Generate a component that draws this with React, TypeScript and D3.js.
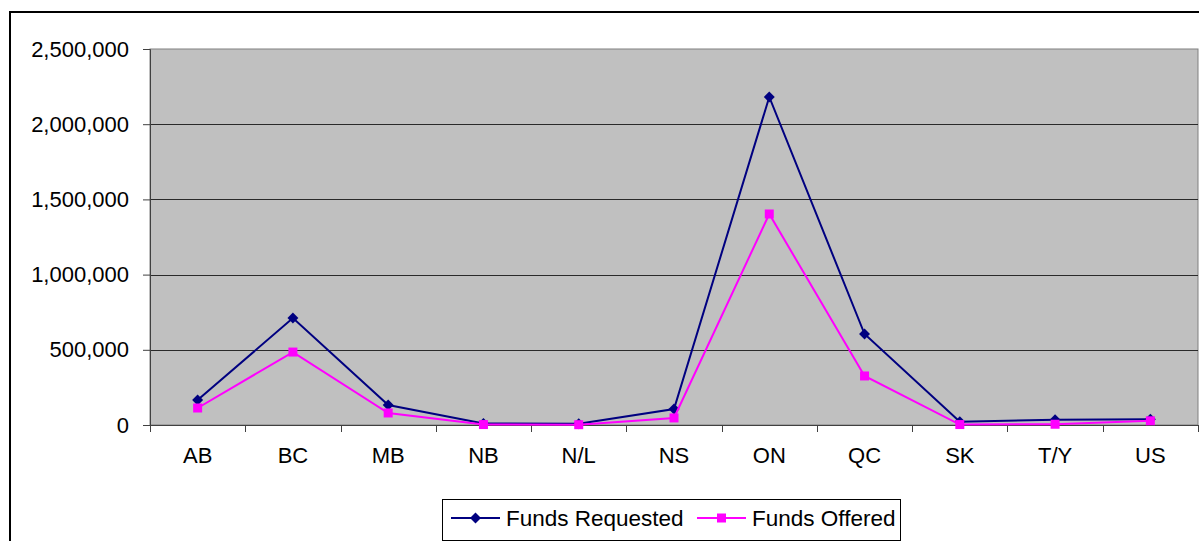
import { useEffect, useRef } from 'react'
import * as d3 from 'd3'

const provinces = ['AB', 'BC', 'MB', 'NB', 'N/L', 'NS', 'ON', 'QC', 'SK', 'T/Y', 'US']
const fundsRequested = [166000, 711000, 133000, 10000, 8000, 106000, 2181000, 605000, 22000, 35000, 38000]
const fundsOffered = [113000, 485000, 80000, 3000, 2000, 47000, 1403000, 326000, 3000, 5000, 28000]
const yTicks = [0, 500000, 1000000, 1500000, 2000000, 2500000]

const App = () => {
  const ref = useRef<SVGSVGElement>(null)

  useEffect(() => {
    const w = 1199
    const h = 541
    const svg = d3.select(ref.current)
    svg.selectAll('*').remove()
    svg.attr('width', w).attr('height', h)
      .style('font-family', '"Liberation Sans", Arial, sans-serif')

    // outer chart border
    svg.append('rect')
      .attr('x', 10).attr('y', 12).attr('width', 1300).attr('height', 600)
      .attr('fill', 'white').attr('stroke', 'black').attr('stroke-width', 2)

    const left = 150, top = 49, right = 1198, bottom = 425

    const x = d3.scaleBand().domain(provinces).range([left, right])
    const y = d3.scaleLinear().domain([0, 2500000]).range([bottom, top])

    // plot area
    svg.append('rect')
      .attr('x', left).attr('y', top).attr('width', right - left).attr('height', bottom - top)
      .attr('fill', '#c0c0c0').attr('stroke', '#808080').attr('stroke-width', 1)

    // gridlines
    svg.append('g').selectAll('line')
      .data(yTicks.filter(t => t > 0 && t < 2500000))
      .enter().append('line')
      .attr('x1', left).attr('x2', right)
      .attr('y1', d => Math.round(y(d)) + 0.5).attr('y2', d => Math.round(y(d)) + 0.5)
      .attr('stroke', '#2a2a2a').attr('stroke-width', 1)

    // y axis
    const yAxis = d3.axisLeft(y).tickValues(yTicks).tickSize(7).tickPadding(14)
      .tickFormat(d => d3.format(',')(d as number))
    const gy = svg.append('g').attr('transform', `translate(${left},0)`).call(yAxis)
    gy.select('.domain').attr('stroke', '#404040')
    gy.selectAll('.tick line').attr('stroke', '#404040')
    gy.selectAll('text').attr('font-size', 22).attr('fill', 'black')
      .attr('font-family', '"Liberation Sans", Arial, sans-serif')

    // x axis
    const xAxis = d3.axisBottom(x).tickSize(0).tickPadding(22)
    const gx = svg.append('g').attr('transform', `translate(0,${bottom})`).call(xAxis)
    gx.select('.domain').remove()
    gx.selectAll('text').attr('font-size', 22).attr('fill', 'black')
      .attr('font-family', '"Liberation Sans", Arial, sans-serif')
    svg.append('line')
      .attr('x1', left).attr('x2', right).attr('y1', bottom + 0.5).attr('y2', bottom + 0.5)
      .attr('stroke', '#404040')
    svg.append('g').selectAll('line')
      .data(provinces.concat(['end']))
      .enter().append('line')
      .attr('x1', (d, i) => Math.round(left + i * x.step()) + 0.5)
      .attr('x2', (d, i) => Math.round(left + i * x.step()) + 0.5)
      .attr('y1', bottom).attr('y2', bottom + 7)
      .attr('stroke', '#404040')

    const cx = (d: string) => (x(d) as number) + x.bandwidth() / 2
    const line = d3.line<number>().x((d, i) => cx(provinces[i])).y(d => y(d))

    const series = [
      { values: fundsRequested, color: '#000080', shape: d3.symbolSquare, size: 60, rot: 45 },
      { values: fundsOffered, color: '#ff00ff', shape: d3.symbolSquare, size: 81, rot: 0 },
    ]

    series.forEach(s => {
      svg.append('path').datum(s.values)
        .attr('d', line).attr('fill', 'none').attr('stroke', s.color).attr('stroke-width', 2)
      svg.append('g').selectAll('path')
        .data(s.values).enter().append('path')
        .attr('d', d3.symbol().type(s.shape).size(s.size))
        .attr('transform', (d, i) => `translate(${cx(provinces[i])},${y(d)}) rotate(${s.rot})`)
        .attr('fill', s.color)
    })

    // legend
    const lg = svg.append('g')
    lg.append('rect').attr('x', 442.5).attr('y', 499.5).attr('width', 458).attr('height', 41)
      .attr('fill', 'white').attr('stroke', 'black').attr('stroke-width', 1)
    const legendItems = [
      { label: 'Funds Requested', s: series[0], x0: 451, tx: 506 },
      { label: 'Funds Offered', s: series[1], x0: 697, tx: 752 },
    ]
    legendItems.forEach(it => {
      lg.append('line').attr('x1', it.x0).attr('x2', it.x0 + 49).attr('y1', 518).attr('y2', 518)
        .attr('stroke', it.s.color).attr('stroke-width', 2)
      lg.append('path').attr('d', d3.symbol().type(it.s.shape).size(it.s.size))
        .attr('transform', `translate(${it.x0 + 24.5},518) rotate(${it.s.rot})`).attr('fill', it.s.color)
      lg.append('text').attr('x', it.tx).attr('y', 526).attr('font-size', 22.5).attr('fill', 'black')
        .text(it.label)
    })
  }, [])

  return (
    <div style={{ position: 'fixed', left: 0, top: 0 }}>
      <svg ref={ref} style={{ display: 'block' }}></svg>
    </div>
  )
}

export default App
